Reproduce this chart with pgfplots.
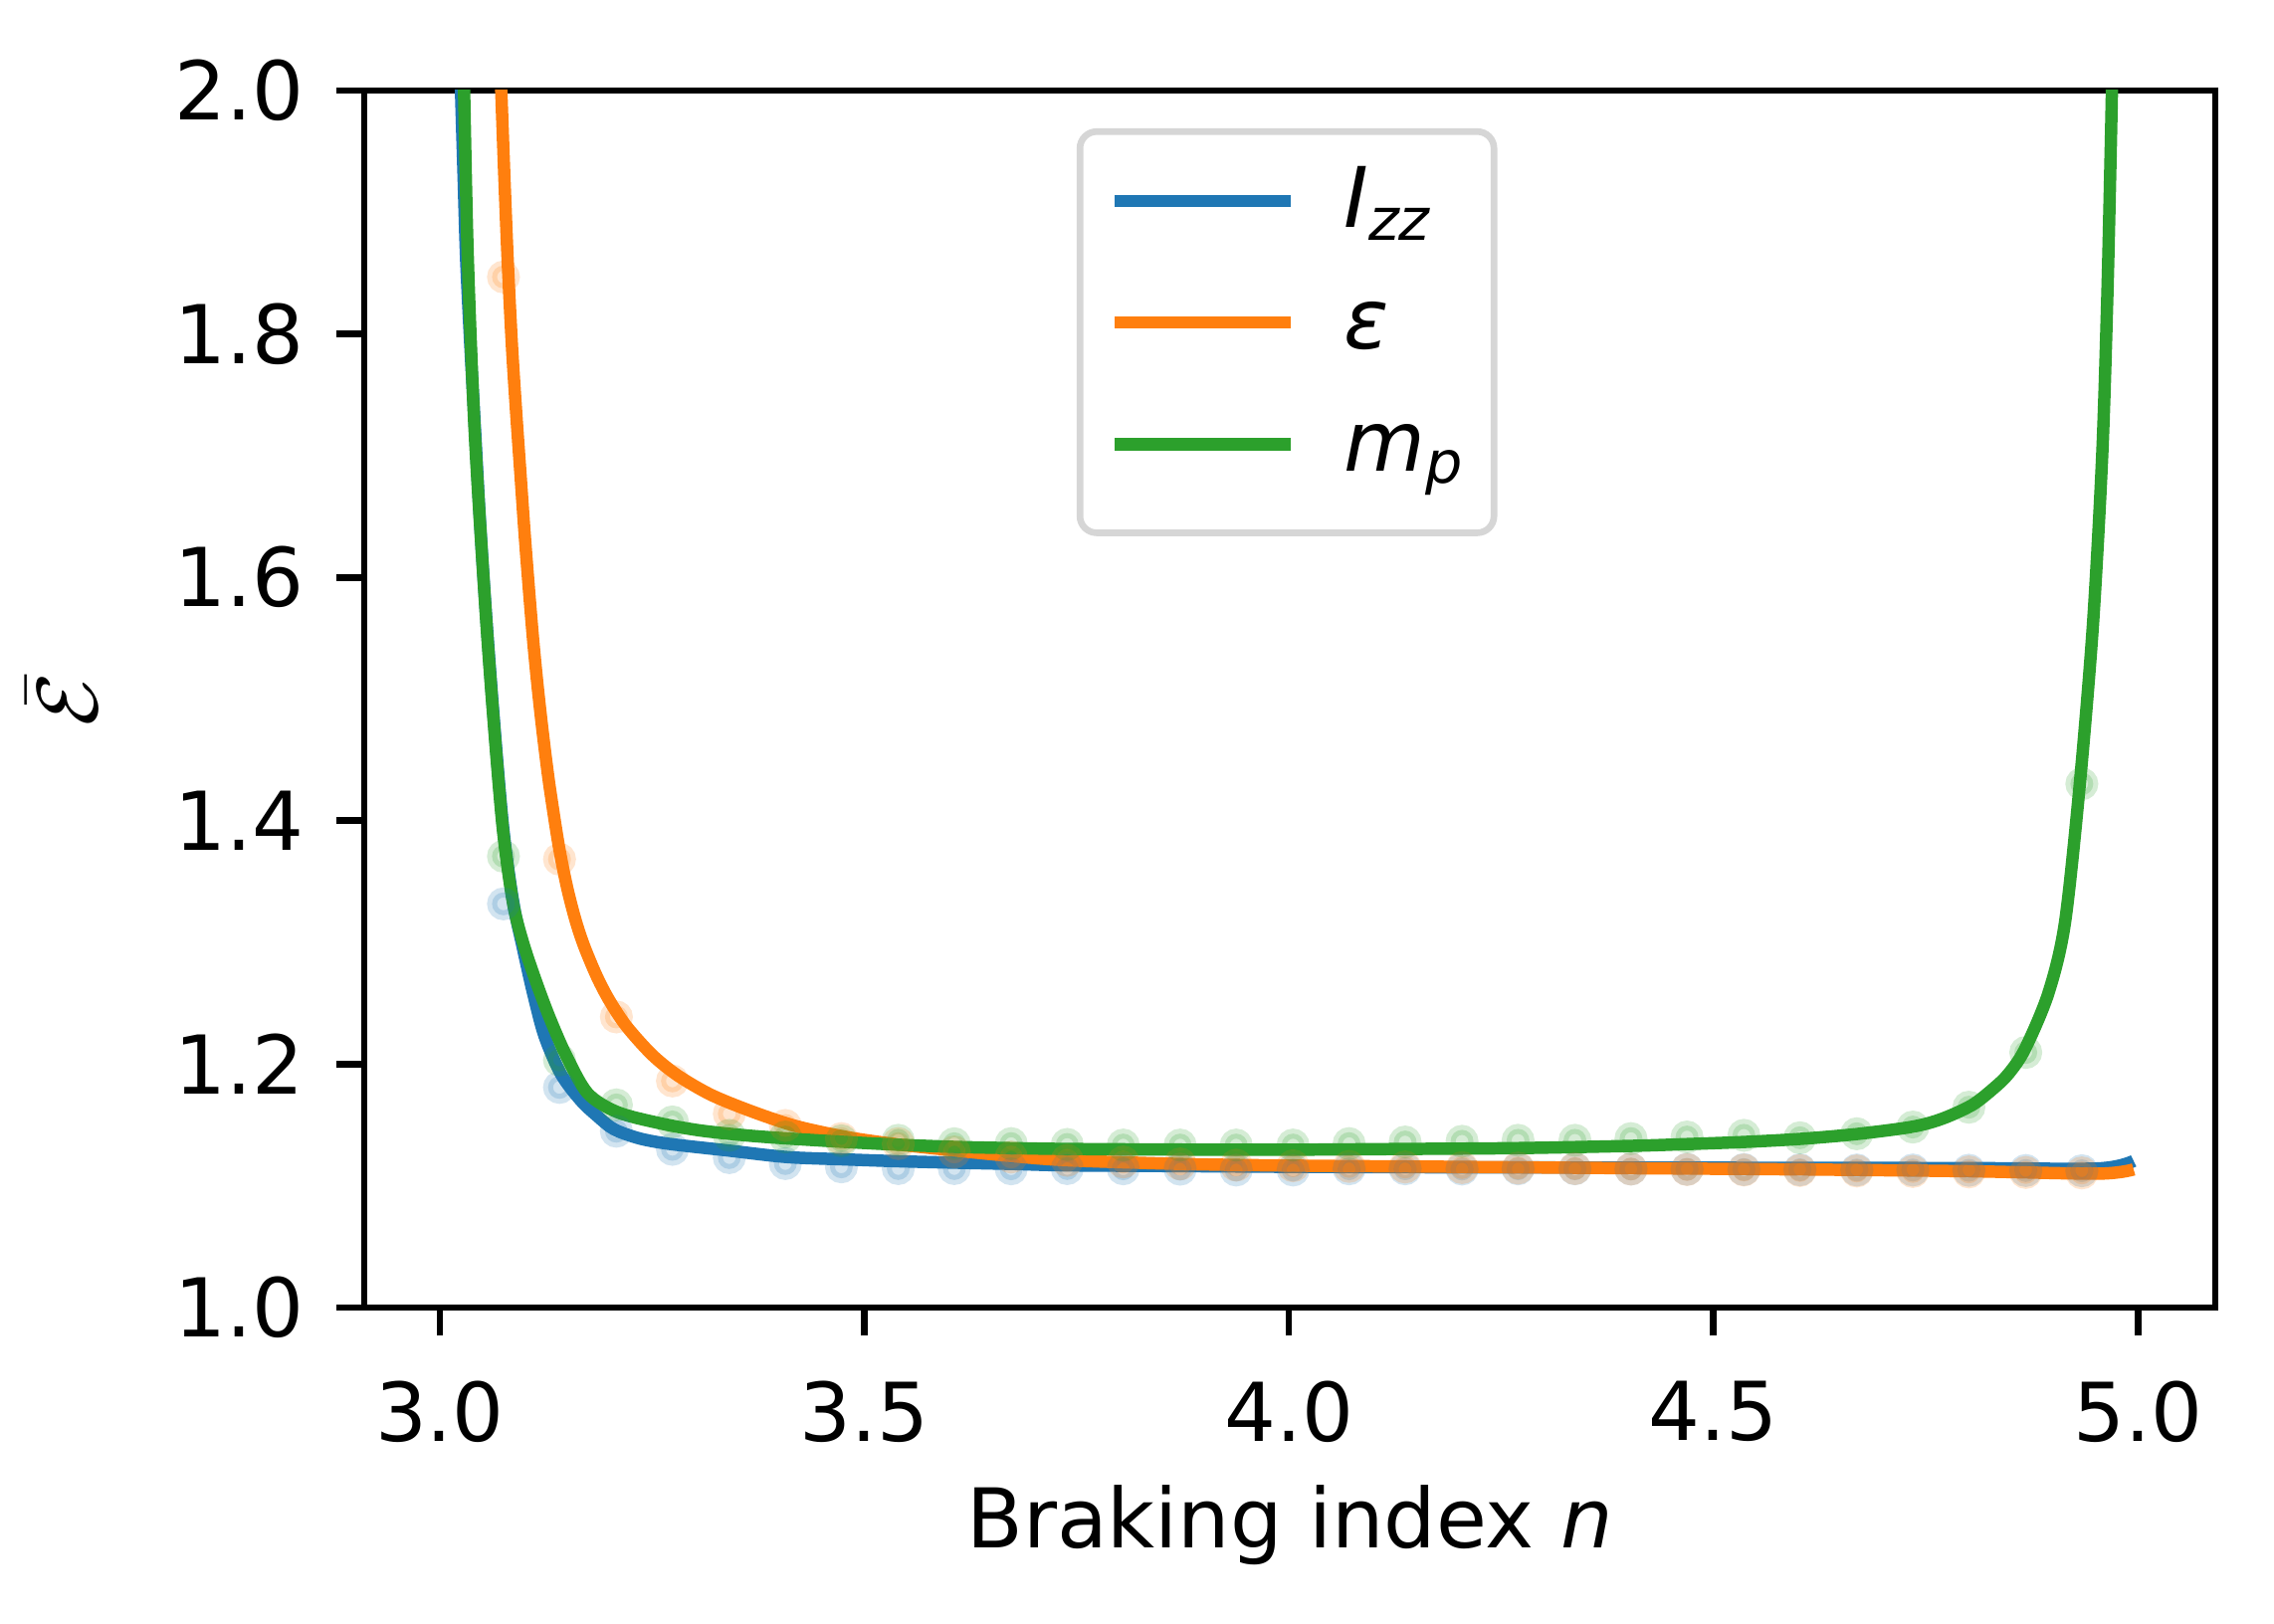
\documentclass[border=0pt]{standalone}
\usepackage{pgfplots}
\pgfplotsset{compat=1.18}
\usepackage{fontspec}
\setmainfont{DejaVu Sans}

\definecolor{tabblue}{HTML}{1F77B4}
\definecolor{taborange}{HTML}{FF7F0E}
\definecolor{tabgreen}{HTML}{2CA02C}

\pgfplotsset{
  dots/.style={only marks, mark=*, mark size=1.92pt, forget plot,
    mark options={line width=1.67pt, draw=#1, fill=#1, draw opacity=0.2, fill opacity=0.2}},
  curve/.style={#1, line width=2.08pt, line join=round, smooth, tension=0.5},
}

\begin{document}
\begin{tikzpicture}
\useasboundingbox (-61pt,-53pt) rectangle (319.83pt,219pt);
\begin{axis}[
    scale only axis,
    width=309.97pt,
    height=203.83pt,
    xmin=2.911, xmax=5.091,
    ymin=1, ymax=2,
    xtick={3,3.5,4,4.5,5},
    ytick={1,1.2,1.4,1.6,1.8,2},
    xtick pos=bottom, ytick pos=left,
    tick align=outside,
    major tick length=4.7pt,
    tick style={line width=1.11pt, black},
    axis line style={line width=1.11pt},
    /pgf/number format/.cd, fixed, fixed zerofill, precision=1, assume math mode=true,
    /pgfplots/.cd,
    tick label style={font=\fontsize{13.6}{15}\selectfont, inner sep=0pt},
    xticklabel shift=7.4pt,
    yticklabel shift=5.2pt,
    xlabel={Braking index \textit{n}},
    ylabel={$\bar{\mathcal{E}}$},
    label style={font=\fontsize{13.8}{16}\selectfont},
    xlabel style={at={(axis description cs:0.5,0)}, anchor=base, yshift=-40.3pt},
    ylabel style={at={(axis description cs:-0.1636,0.5)}, anchor=center},
    legend image code/.code={\draw[#1, line width=2.08pt] (0pt,1.6pt) -- (29.5pt,1.6pt);},
    legend style={at={(0.3849,0.969)}, anchor=north west,
      draw=black!16, line width=1.11pt, rounded corners=2.8pt,
      font=\fontsize{14}{16.8}\selectfont,
      nodes={inner sep=0pt, text height=13pt, text depth=7.4pt},
      inner xsep=4.8pt, inner ysep=3pt, row sep=0pt, column sep=7.8pt},
    legend cell align=left,
]

% lines
\addplot[curve=tabblue] coordinates {
(3.022,2.08) (3.025,2.00) (3.028,1.93) (3.031,1.862) (3.036,1.79)
(3.0415,1.721) (3.047,1.65) (3.0535,1.579) (3.063,1.489) (3.0745,1.395)
(3.0865,1.333) (3.098,1.295) (3.110,1.258) (3.1233,1.2231) (3.1428,1.1918)
(3.1662,1.170) (3.186,1.157) (3.2054,1.1464) (3.235,1.139) (3.270,1.1345)
(3.34,1.129) (3.408,1.1237) (3.474,1.1218) (3.54,1.1202) (3.607,1.119)
(3.673,1.118) (3.739,1.1168) (3.872,1.1162) (4.004,1.1156) (4.2,1.1152)
(4.4,1.115) (4.6,1.1148) (4.8,1.1146) (4.953,1.1143) (4.995,1.1205)
};
\addlegendentry{\textit{I}\textsubscript{\textit{zz}}}

\addplot[curve=taborange] coordinates {
(3.0705,2.04) (3.0724,2.00) (3.076,1.93) (3.080,1.86) (3.085,1.79)
(3.090,1.735) (3.095,1.685) (3.100,1.635) (3.105,1.590) (3.110,1.548)
(3.115,1.512) (3.120,1.480) (3.125,1.451) (3.130,1.425) (3.140,1.380)
(3.150,1.345) (3.160,1.318) (3.170,1.297) (3.185,1.272) (3.200,1.252)
(3.220,1.231) (3.250,1.2077) (3.280,1.1908) (3.320,1.1746) (3.370,1.1605)
(3.420,1.149) (3.480,1.140) (3.540,1.134) (3.607,1.129) (3.673,1.1245)
(3.739,1.121) (3.872,1.118) (4.004,1.1166) (4.2,1.1156) (4.4,1.1145)
(4.6,1.1135) (4.8,1.112) (4.953,1.110) (4.995,1.1135)
};
\addlegendentry{\textit{ε}}

\addplot[curve=tabgreen] coordinates {
(3.0275,2.05) (3.0286,2.00) (3.033,1.862) (3.041,1.721) (3.0533,1.579)
(3.0626,1.489) (3.074,1.395) (3.0861,1.333) (3.098,1.30) (3.1123,1.270)
(3.129,1.2388) (3.1486,1.2075) (3.174,1.1762) (3.209,1.1606) (3.26,1.1513)
(3.3066,1.1455) (3.36,1.1415) (3.408,1.139) (3.474,1.1362) (3.54,1.1338)
(3.607,1.132) (3.673,1.131) (3.739,1.1303) (3.872,1.1298) (4.004,1.1297)
(4.137,1.1303) (4.269,1.131) (4.402,1.1328) (4.469,1.1343) (4.535,1.136)
(4.601,1.1385) (4.668,1.1425) (4.734,1.1485) (4.769,1.155) (4.8046,1.1663)
(4.83,1.180) (4.8476,1.192) (4.867,1.2123) (4.8945,1.258) (4.914,1.3155)
(4.9316,1.43) (4.947,1.56) (4.958,1.70) (4.964,1.83) (4.968,1.95) (4.970,2.02)
};
\addlegendentry{\textit{m}\textsubscript{\textit{p}}}

% scatter points
\addplot[dots=tabblue] coordinates {
(3.075,1.3317) (3.141,1.1809) (3.208,1.1449) (3.274,1.1300) (3.341,1.1232)
(3.407,1.1183) (3.473,1.1156) (3.540,1.1142) (3.606,1.1142) (3.673,1.1140)
(3.739,1.1142) (3.805,1.1140) (3.872,1.1137) (3.938,1.1130) (4.005,1.1130)
(4.071,1.1140) (4.137,1.1140) (4.204,1.1138) (4.270,1.1140) (4.337,1.1140)
(4.403,1.1138) (4.469,1.1136) (4.536,1.1134) (4.602,1.1132) (4.669,1.1130)
(4.735,1.1130) (4.801,1.1128) (4.868,1.1126) (4.934,1.1124)
};
\addplot[dots=taborange] coordinates {
(3.075,1.8468) (3.141,1.3684) (3.208,1.2388) (3.274,1.1862) (3.341,1.1592)
(3.407,1.1496) (3.473,1.1388) (3.540,1.1347) (3.606,1.1278) (3.673,1.1237)
(3.739,1.1210) (3.805,1.1196) (3.872,1.1180) (3.938,1.1170) (4.005,1.1165)
(4.071,1.1160) (4.137,1.1155) (4.204,1.1150) (4.270,1.1146) (4.337,1.1142)
(4.403,1.1138) (4.469,1.1134) (4.536,1.1130) (4.602,1.1126) (4.669,1.1122)
(4.735,1.1118) (4.801,1.1114) (4.868,1.1110) (4.934,1.1106)
};
\addplot[dots=tabgreen] coordinates {
(3.075,1.3708) (3.141,1.2034) (3.208,1.1665) (3.274,1.1525) (3.341,1.1415)
(3.407,1.1401) (3.473,1.1370) (3.540,1.1374) (3.606,1.1346) (3.673,1.1347)
(3.739,1.1340) (3.805,1.1335) (3.872,1.1335) (3.938,1.1335) (4.005,1.1335)
(4.071,1.1347) (4.137,1.1360) (4.204,1.1366) (4.270,1.1374) (4.337,1.1374)
(4.403,1.1388) (4.469,1.1401) (4.536,1.1415) (4.602,1.1395) (4.669,1.1428)
(4.735,1.1483) (4.801,1.1646) (4.868,1.2096) (4.934,1.4303)
};

\end{axis}
\end{tikzpicture}
\end{document}
